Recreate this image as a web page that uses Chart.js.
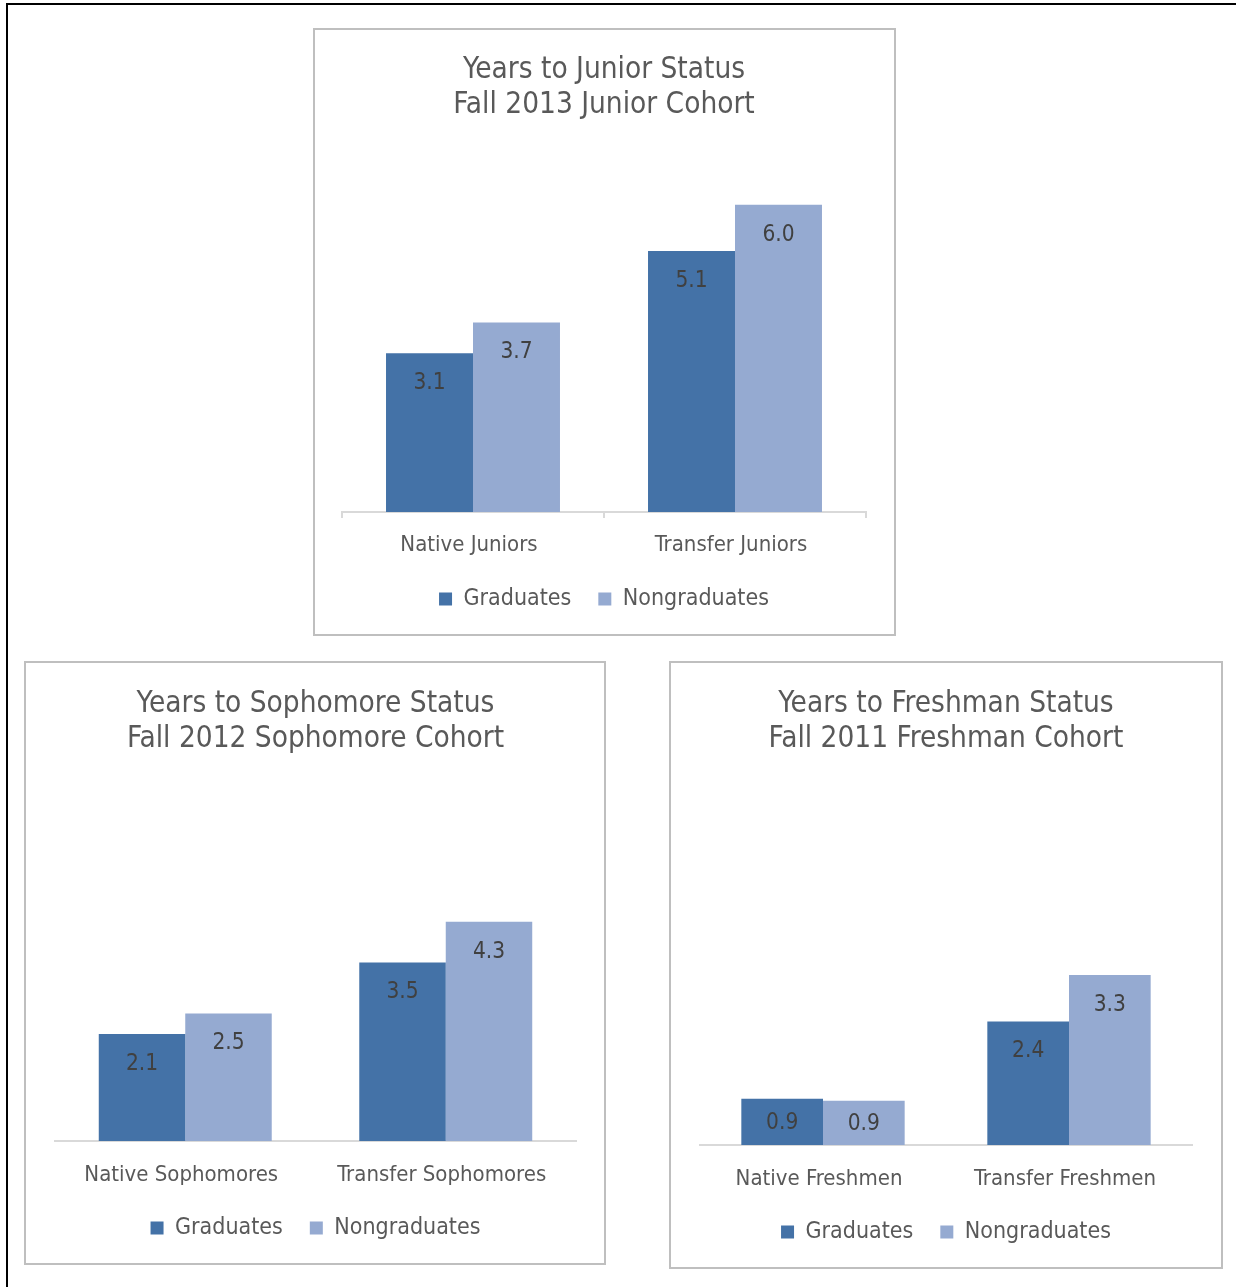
<!DOCTYPE html>
<html>
<head>
<meta charset="utf-8">
<script src="https://cdn.jsdelivr.net/npm/chart.js@4/dist/chart.umd.min.js"></script>
<style>
  body { margin: 0; background: #fff; width: 1236px; height: 1287px; overflow: hidden; position: relative; }
  .frame { position: absolute; left: 6px; top: 3px; width: 1300px; height: 1400px; border-top: 2px solid #000; border-left: 2px solid #000; }
  .box { position: absolute; border: 2px solid #bfbfbf; background: #fff; }
</style>
</head>
<body>
<div class="frame"></div>
<div class="box" style="left:313px;top:28px;width:579px;height:604px;"><canvas id="chart-junior"></canvas></div>
<div class="box" style="left:24px;top:661px;width:578px;height:600px;"><canvas id="chart-sophomore"></canvas></div>
<div class="box" style="left:669px;top:661px;width:550px;height:604px;"><canvas id="chart-freshman"></canvas></div>
<script>
/* global Chart */

const seriesNames = ['Graduates', 'Nongraduates'];

const juniorTitle = ['Years to Junior Status', 'Fall 2013 Junior Cohort'];
const juniorCategories = ['Native Juniors', 'Transfer Juniors'];
const juniorGraduates = [3.1, 5.1];
const juniorNongraduates = [3.7, 6.0];

const sophomoreTitle = ['Years to Sophomore Status', 'Fall 2012 Sophomore Cohort'];
const sophomoreCategories = ['Native Sophomores', 'Transfer Sophomores'];
const sophomoreGraduates = [2.1, 3.5];
const sophomoreNongraduates = [2.5, 4.3];

const freshmanTitle = ['Years to Freshman Status', 'Fall 2011 Freshman Cohort'];
const freshmanCategories = ['Native Freshmen', 'Transfer Freshmen'];
const freshmanGraduates = [0.9, 2.4];
const freshmanNongraduates = [0.86, 3.3];

const FONT = "'DejaVu Sans Condensed', 'Liberation Sans', sans-serif";
const colors = ['#4472a7', '#95aad1'];

// value labels inside the top of each bar (centred when the bar is short)
const barLabels = {
  id: 'barLabels',
  afterDatasetsDraw(chart) {
    const ctx = chart.ctx;
    ctx.save();
    ctx.font = `22.5px ${FONT}`;
    ctx.fillStyle = '#404040';
    ctx.textAlign = 'center';
    ctx.textBaseline = 'middle';
    chart.data.datasets.forEach((ds, i) => {
      chart.getDatasetMeta(i).data.forEach((bar, j) => {
        const h = bar.base - bar.y;
        ctx.fillText(ds.data[j].toFixed(1), bar.x, bar.y + Math.min(30, h / 2 + 1));
      });
    });
    ctx.restore();
  }
};

function createChart(id, title, labels, graduates, nongraduates, opts) {
  const context = document.getElementById(id).getContext('2d');
  return new Chart(context, {
    type: 'bar',
    data: {
      labels,
      datasets: [
        { label: seriesNames[0], data: graduates, backgroundColor: colors[0] },
        { label: seriesNames[1], data: nongraduates, backgroundColor: colors[1] }
      ]
    },
    options: {
      responsive: true,
      maintainAspectRatio: false,
      animation: false,
      categoryPercentage: 0.664,
      barPercentage: 1,
      layout: { padding: { top: 0, left: opts.left, right: opts.right, bottom: 13.5 } },
      plugins: {
        tooltip: { enabled: false },
        title: {
          display: true,
          text: title,
          color: '#595959',
          font: { family: FONT, size: 29.5, weight: 'normal', lineHeight: '35px' },
          padding: { top: opts.titleTop + 2, bottom: opts.titleBottom - 2 }
        },
        legend: {
          position: 'bottom',
          labels: {
            color: '#595959',
            font: { family: FONT, size: 23 },
            boxWidth: 13,
            boxHeight: 13,
            padding: 27
          }
        }
      },
      scales: {
        x: {
          afterFit(scale) { scale.height = 48.5; },
          border: { display: true, color: '#d9d9d9', width: 2 },
          grid: {
            display: opts.ticks,
            drawOnChartArea: false,
            color: '#d9d9d9',
            lineWidth: 2,
            tickLength: 6,
            offset: true
          },
          ticks: {
            color: '#595959',
            font: { family: FONT, size: 22 },
            padding: opts.ticks ? 13.8 : 14.8,
            labelOffset: -4,
            maxRotation: 0
          }
        },
        y: { display: false, min: 0, max: 7 }
      }
    },
    plugins: [barLabels]
  });
}

createChart('chart-junior', juniorTitle, juniorCategories, juniorGraduates, juniorNongraduates,
  { left: 27, right: 28, titleTop: 20.5, titleBottom: 33.1, ticks: true });
createChart('chart-sophomore', sophomoreTitle, sophomoreCategories, sophomoreGraduates, sophomoreNongraduates,
  { left: 29, right: 28, titleTop: 21.5, titleBottom: 29.5, ticks: false });
createChart('chart-freshman', freshmanTitle, freshmanCategories, freshmanGraduates, freshmanNongraduates,
  { left: 29, right: 29, titleTop: 21.5, titleBottom: 30, ticks: false });
</script>
</body>
</html>
